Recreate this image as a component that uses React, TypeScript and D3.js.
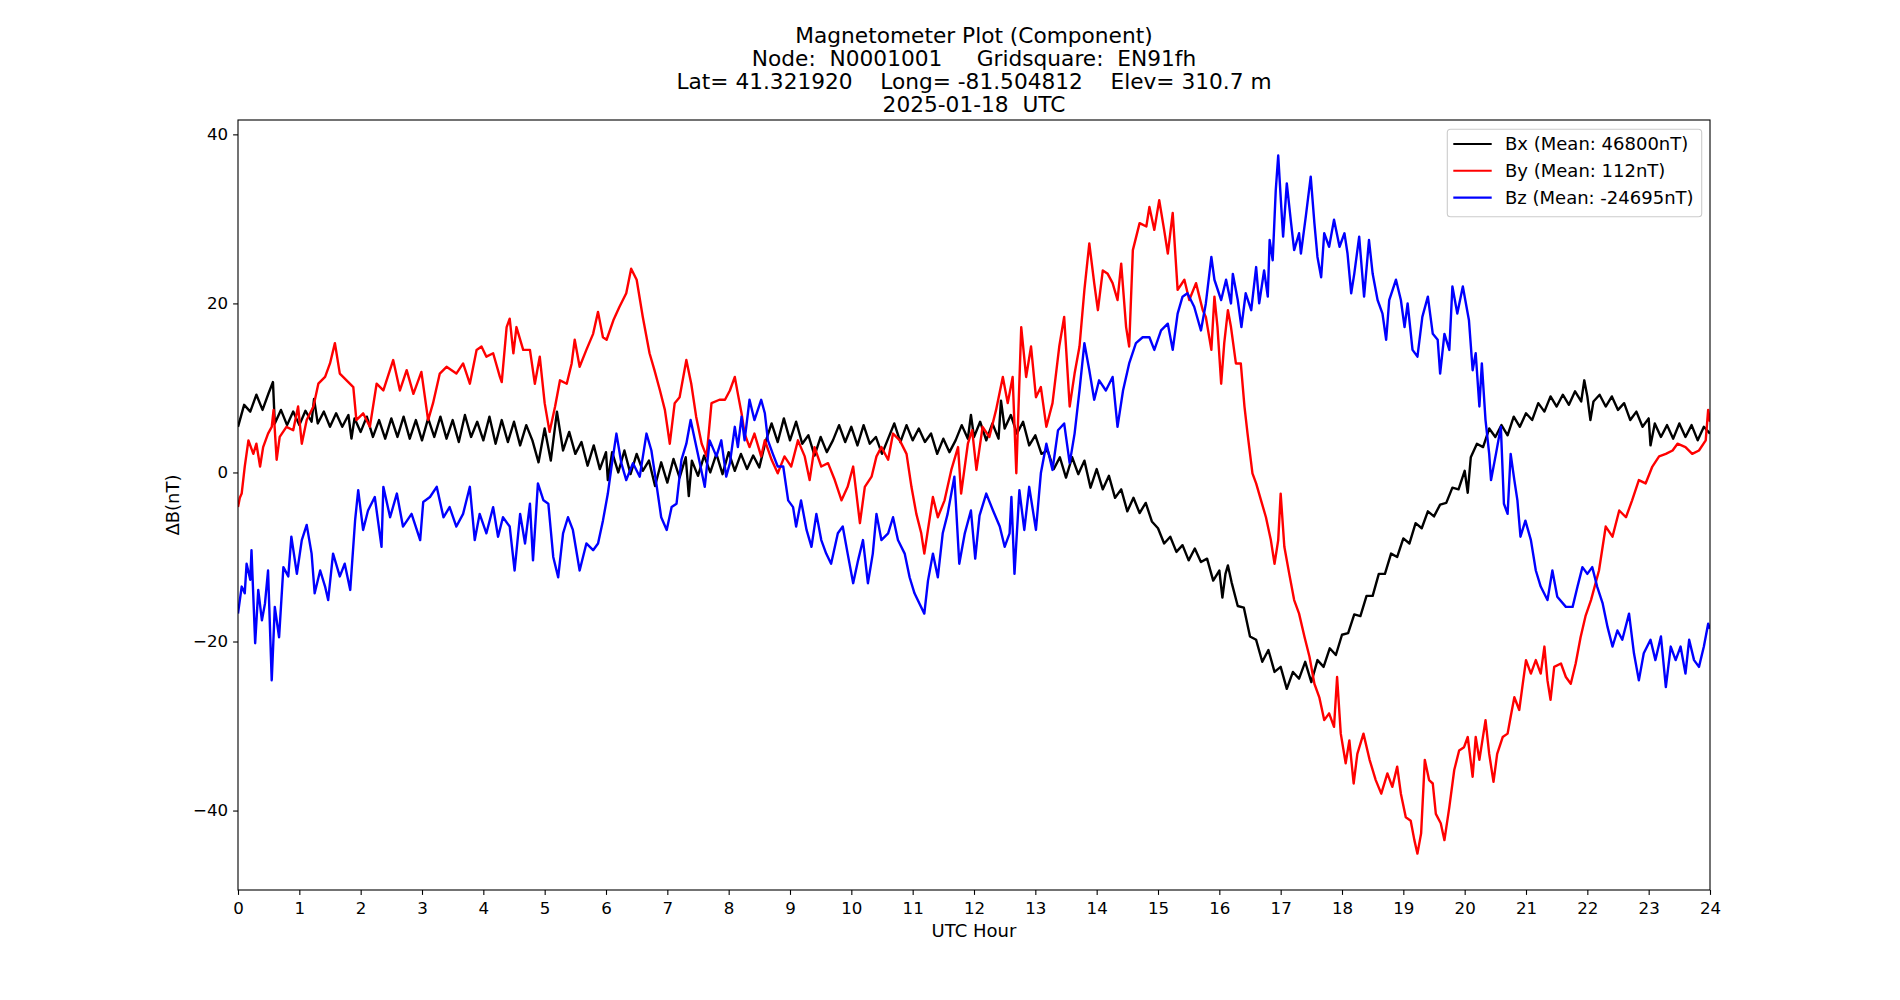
import React, { useEffect, useRef } from "react";
import * as d3 from "d3";

// title + labels
const titleLines = [
  "Magnetometer Plot (Component)",
  "Node:  N0001001     Gridsquare:  EN91fh",
  "Lat= 41.321920    Long= -81.504812    Elev= 310.7 m",
  "2025-01-18  UTC",
];
const xLabel = "UTC Hour";
const yLabel = "ΔB(nT)";

const xTicks = [0, 1, 2, 3, 4, 5, 6, 7, 8, 9, 10, 11, 12, 13, 14, 15, 16, 17, 18, 19, 20, 21, 22, 23, 24];
const yTicks = [-40, -20, 0, 20, 40];

const legendLabels = ["Bx (Mean: 46800nT)", "By (Mean: 112nT)", "Bz (Mean: -24695nT)"];

// [UTC hour, delta nT]
const bx: [number, number][] = [
  [0, 5.4], [0.1, 8.0], [0.2, 7.2], [0.3, 9.2], [0.4, 7.4], [0.5, 9.4], [0.57, 10.7], [0.6, 5.8],
  [0.7, 7.4], [0.8, 5.6], [0.9, 7.2], [1.0, 5.6], [1.1, 7.3], [1.2, 6.0], [1.24, 8.7], [1.3, 5.8],
  [1.4, 7.2], [1.5, 5.4], [1.6, 7.0], [1.7, 5.4], [1.8, 6.8], [1.85, 4.0], [1.9, 6.4], [2.0, 4.8],
  [2.1, 6.6], [2.2, 4.2], [2.3, 6.2], [2.4, 4.0], [2.5, 6.4], [2.6, 4.2], [2.7, 6.6], [2.8, 4.0],
  [2.9, 6.2], [3.0, 3.8], [3.1, 6.4], [3.2, 4.2], [3.3, 6.6], [3.4, 4.0], [3.5, 6.2], [3.6, 3.6],
  [3.7, 6.8], [3.8, 4.2], [3.9, 6.0], [4.0, 3.8], [4.1, 6.6], [4.2, 3.4], [4.3, 6.2], [4.4, 3.6],
  [4.5, 6.0], [4.6, 3.2], [4.7, 5.6], [4.8, 3.8], [4.9, 1.2], [5.0, 5.2], [5.1, 1.4], [5.2, 7.2],
  [5.3, 2.6], [5.4, 4.8], [5.5, 2.2], [5.6, 3.6], [5.7, 0.8], [5.8, 3.2], [5.9, 0.4], [6.0, 2.4],
  [6.03, -0.9], [6.1, 2.4], [6.2, 0.0], [6.3, 2.6], [6.4, -0.2], [6.5, 2.2], [6.6, 0.2], [6.7, 1.4],
  [6.8, -1.6], [6.9, 1.2], [7.0, -1.2], [7.1, 1.6], [7.2, -0.6], [7.3, 1.8], [7.35, -2.8], [7.4, 1.4],
  [7.5, -0.4], [7.6, 2.0], [7.7, 0.0], [7.8, 2.2], [7.9, -0.2], [8.0, 2.4], [8.1, 0.2], [8.2, 2.2],
  [8.3, 0.4], [8.4, 2.0], [8.5, 0.6], [8.6, 3.6], [8.7, 5.8], [8.8, 3.6], [8.9, 6.4], [9.0, 3.8],
  [9.1, 6.0], [9.2, 3.4], [9.3, 4.4], [9.4, 2.0], [9.5, 4.2], [9.6, 2.4], [9.7, 3.8], [9.8, 5.6],
  [9.9, 3.6], [10.0, 5.4], [10.1, 3.2], [10.2, 5.6], [10.3, 3.4], [10.4, 4.2], [10.5, 2.2], [10.6, 4.0],
  [10.7, 5.8], [10.8, 3.6], [10.9, 5.6], [11.0, 3.8], [11.1, 5.2], [11.2, 3.6], [11.3, 4.6], [11.4, 2.2],
  [11.5, 4.0], [11.6, 2.4], [11.7, 3.8], [11.8, 5.6], [11.9, 4.0], [11.95, 6.8], [12.0, 4.2], [12.1, 6.0],
  [12.2, 3.8], [12.3, 5.8], [12.4, 4.0], [12.44, 8.5], [12.5, 5.2], [12.6, 6.8], [12.7, 4.6], [12.8, 6.0],
  [12.9, 3.2], [13.0, 4.4], [13.1, 2.2], [13.2, 2.6], [13.3, 0.4], [13.4, 1.8], [13.5, -0.6], [13.6, 1.8],
  [13.7, -0.2], [13.8, 1.4], [13.9, -1.8], [14.0, 0.4], [14.1, -2.0], [14.2, -0.4], [14.3, -3.0], [14.4, -2.0],
  [14.5, -4.6], [14.6, -3.0], [14.7, -4.8], [14.8, -3.6], [14.9, -5.8], [15.0, -6.6], [15.1, -8.4], [15.2, -7.6],
  [15.3, -9.4], [15.4, -8.6], [15.5, -10.4], [15.6, -9.0], [15.7, -10.6], [15.8, -10.2], [15.9, -12.8], [16.0, -11.6],
  [16.05, -14.8], [16.1, -12.0], [16.14, -11.0], [16.2, -13.0], [16.3, -15.8], [16.4, -16.0], [16.5, -19.4], [16.6, -19.8],
  [16.7, -22.4], [16.8, -21.0], [16.9, -23.6], [17.0, -23.0], [17.1, -25.6], [17.2, -23.6], [17.3, -24.4], [17.4, -22.4],
  [17.5, -24.8], [17.6, -22.2], [17.7, -23.0], [17.8, -20.8], [17.9, -21.6], [18.0, -19.2], [18.1, -19.0], [18.2, -16.8],
  [18.3, -17.0], [18.4, -14.6], [18.5, -14.6], [18.6, -12.0], [18.7, -12.0], [18.8, -9.6], [18.9, -10.0], [19.0, -7.8],
  [19.1, -8.4], [19.2, -6.0], [19.3, -6.6], [19.4, -4.6], [19.5, -5.2], [19.6, -3.8], [19.7, -3.6], [19.8, -1.8],
  [19.9, -2.0], [20.0, 0.2], [20.05, -2.4], [20.1, 1.8], [20.2, 3.4], [20.3, 3.0], [20.4, 5.2], [20.5, 4.2],
  [20.6, 5.6], [20.7, 4.4], [20.8, 6.6], [20.9, 5.4], [21.0, 7.0], [21.1, 6.2], [21.2, 8.2], [21.3, 7.2],
  [21.4, 9.0], [21.5, 7.8], [21.6, 9.2], [21.7, 8.0], [21.8, 9.6], [21.9, 8.4], [21.95, 10.9], [22.0, 9.0],
  [22.05, 6.2], [22.1, 8.4], [22.2, 9.2], [22.3, 7.8], [22.4, 9.0], [22.5, 7.4], [22.6, 8.2], [22.7, 6.2],
  [22.8, 7.2], [22.9, 5.4], [23.0, 6.4], [23.03, 3.2], [23.1, 5.8], [23.2, 4.2], [23.3, 5.6], [23.4, 4.0],
  [23.5, 5.8], [23.6, 4.2], [23.7, 5.6], [23.8, 3.8], [23.9, 5.4], [24.0, 4.6],
];

const by: [number, number][] = [
  [0, -4.1], [0.03, -3.0], [0.06, -2.5], [0.11, 0.7], [0.17, 3.8], [0.25, 2.2], [0.3, 3.4], [0.36, 0.7],
  [0.41, 3.0], [0.49, 4.6], [0.55, 5.4], [0.58, 7.4], [0.63, 1.5], [0.68, 4.2], [0.79, 5.4], [0.9, 5.0],
  [0.98, 7.8], [1.04, 3.4], [1.12, 6.2], [1.23, 7.8], [1.31, 10.5], [1.42, 11.3], [1.5, 12.9], [1.58, 15.3],
  [1.66, 11.7], [1.77, 10.9], [1.88, 10.1], [1.93, 6.2], [2.04, 7.0], [2.15, 5.4], [2.26, 10.5], [2.37, 9.7],
  [2.53, 13.3], [2.64, 9.7], [2.75, 12.1], [2.86, 9.3], [2.99, 11.9], [3.1, 6.2], [3.18, 8.2], [3.29, 11.7],
  [3.4, 12.5], [3.56, 11.7], [3.67, 12.9], [3.78, 10.5], [3.89, 14.5], [3.97, 14.9], [4.05, 13.7], [4.16, 14.1],
  [4.27, 11.3], [4.3, 10.7], [4.38, 17.2], [4.43, 18.2], [4.49, 14.1], [4.54, 17.2], [4.65, 14.5], [4.76, 14.5],
  [4.84, 10.5], [4.92, 13.7], [5.0, 8.2], [5.08, 4.8], [5.17, 7.8], [5.25, 10.9], [5.36, 10.5], [5.44, 12.9],
  [5.49, 15.7], [5.57, 12.5], [5.68, 14.5], [5.79, 16.4], [5.87, 19.0], [5.95, 16.0], [6.01, 15.7], [6.12, 18.0],
  [6.22, 19.6], [6.33, 21.2], [6.41, 24.1], [6.5, 22.8], [6.6, 18.4], [6.71, 14.1], [6.79, 12.1], [6.88, 9.7],
  [6.96, 7.4], [7.04, 3.4], [7.12, 8.2], [7.2, 8.9], [7.31, 13.3], [7.39, 10.5], [7.47, 6.6], [7.56, 3.4],
  [7.64, 1.9], [7.72, 8.2], [7.85, 8.6], [7.94, 8.6], [8.02, 9.7], [8.1, 11.3], [8.15, 9.3], [8.21, 7.0],
  [8.26, 4.6], [8.34, 3.0], [8.42, 4.6], [8.53, 1.9], [8.59, 3.8], [8.7, 1.5], [8.8, -0.1], [8.91, 1.9],
  [9.02, 0.7], [9.13, 3.8], [9.24, 1.9], [9.32, -0.9], [9.4, 3.0], [9.51, 0.7], [9.62, 1.1], [9.73, -0.9],
  [9.84, -3.3], [9.94, -1.7], [10.03, 0.7], [10.14, -6.0], [10.22, -1.7], [10.33, -0.5], [10.41, 1.9], [10.49, 3.0],
  [10.6, 1.5], [10.68, 4.6], [10.79, 3.8], [10.9, 2.2], [10.98, -1.7], [11.06, -4.9], [11.14, -7.2], [11.19, -9.6],
  [11.28, -5.3], [11.33, -2.9], [11.41, -5.3], [11.52, -3.3], [11.63, 0.3], [11.74, 3.0], [11.79, -2.5], [11.9, 3.4],
  [11.97, 5.0], [12.04, 0.3], [12.14, 5.4], [12.25, 4.2], [12.36, 7.4], [12.47, 11.3], [12.55, 8.2], [12.63, 11.3],
  [12.69, -0.1], [12.77, 17.2], [12.85, 11.3], [12.93, 14.9], [13.01, 8.9], [13.09, 10.1], [13.18, 5.4], [13.28, 8.2],
  [13.39, 14.9], [13.47, 18.4], [13.56, 7.8], [13.64, 11.7], [13.72, 14.9], [13.8, 21.6], [13.88, 27.1], [13.96, 22.4],
  [14.02, 19.2], [14.1, 23.9], [14.18, 23.5], [14.26, 22.4], [14.34, 20.4], [14.4, 24.7], [14.48, 17.2], [14.53, 14.9],
  [14.59, 26.3], [14.7, 29.5], [14.81, 29.1], [14.86, 31.4], [14.94, 28.7], [15.02, 32.2], [15.1, 28.7], [15.16, 25.9],
  [15.24, 30.7], [15.32, 21.6], [15.43, 22.8], [15.51, 20.4], [15.62, 22.4], [15.73, 19.2], [15.78, 18.4], [15.87, 14.5],
  [15.92, 20.8], [15.97, 17.2], [16.03, 10.5], [16.08, 15.3], [16.14, 19.2], [16.19, 17.2], [16.27, 12.9], [16.35, 12.9],
  [16.41, 7.8], [16.46, 4.6], [16.54, -0.1], [16.6, -1.3], [16.68, -3.3], [16.76, -5.3], [16.84, -8.0], [16.9, -10.8],
  [16.96, -8.0], [17.0, -2.5], [17.06, -8.8], [17.14, -12.0], [17.22, -15.1], [17.3, -16.7], [17.39, -19.5], [17.47, -21.8],
  [17.55, -25.0], [17.63, -26.6], [17.71, -29.3], [17.79, -28.5], [17.87, -30.1], [17.92, -24.2], [17.98, -30.9], [18.06, -34.4],
  [18.12, -31.7], [18.19, -36.8], [18.25, -33.3], [18.35, -30.9], [18.45, -34.0], [18.55, -36.4], [18.64, -38.0], [18.74, -35.6],
  [18.82, -37.2], [18.9, -34.8], [18.96, -38.0], [19.04, -40.8], [19.12, -41.2], [19.18, -43.5], [19.23, -45.1], [19.29, -42.7],
  [19.35, -34.0], [19.42, -36.4], [19.48, -36.8], [19.53, -40.4], [19.61, -41.5], [19.67, -43.5], [19.75, -39.6], [19.83, -35.2],
  [19.91, -32.9], [19.99, -32.5], [20.05, -31.3], [20.13, -36.0], [20.18, -31.3], [20.24, -34.0], [20.34, -29.3], [20.4, -33.3],
  [20.47, -36.6], [20.53, -33.3], [20.62, -31.3], [20.7, -30.9], [20.75, -28.9], [20.81, -26.6], [20.89, -28.1], [20.94, -25.4],
  [21.0, -22.2], [21.08, -23.8], [21.16, -22.2], [21.24, -23.8], [21.3, -20.6], [21.35, -24.6], [21.4, -26.9], [21.46, -23.0],
  [21.57, -22.6], [21.65, -24.2], [21.73, -25.0], [21.81, -22.6], [21.89, -19.5], [21.97, -17.0], [22.06, -15.1], [22.19, -11.6],
  [22.3, -6.4], [22.41, -7.6], [22.52, -4.5], [22.63, -5.3], [22.73, -3.3], [22.84, -0.9], [22.95, -1.3], [23.06, 0.7],
  [23.17, 1.9], [23.28, 2.2], [23.39, 2.6], [23.47, 3.4], [23.6, 3.0], [23.71, 2.2], [23.82, 2.6], [23.93, 3.8],
  [23.97, 7.4], [24.0, 6.0],
];

const bz: [number, number][] = [
  [0, -16.7], [0.06, -13.5], [0.11, -14.3], [0.14, -10.8], [0.2, -12.7], [0.22, -9.2], [0.28, -20.2], [0.33, -13.9],
  [0.39, -17.5], [0.44, -15.5], [0.49, -11.6], [0.55, -24.6], [0.6, -15.9], [0.67, -19.5], [0.74, -11.2], [0.82, -12.3],
  [0.87, -7.6], [0.96, -12.0], [1.04, -8.0], [1.12, -6.2], [1.2, -9.6], [1.25, -14.3], [1.34, -11.6], [1.42, -13.5],
  [1.47, -15.1], [1.55, -9.6], [1.66, -12.3], [1.74, -10.8], [1.83, -13.9], [1.91, -5.6], [1.96, -2.1], [2.04, -6.8],
  [2.12, -4.5], [2.23, -2.9], [2.34, -8.8], [2.37, -1.7], [2.48, -5.3], [2.59, -2.5], [2.69, -6.4], [2.83, -4.9],
  [2.97, -8.0], [3.02, -3.5], [3.13, -2.9], [3.24, -1.7], [3.35, -5.3], [3.45, -4.1], [3.56, -6.4], [3.67, -4.9],
  [3.78, -1.7], [3.86, -8.0], [3.94, -4.9], [4.05, -7.2], [4.16, -4.1], [4.24, -7.6], [4.32, -5.3], [4.43, -6.4],
  [4.51, -11.6], [4.6, -4.9], [4.68, -8.4], [4.76, -3.7], [4.81, -10.4], [4.89, -1.3], [4.98, -3.3], [5.06, -3.7],
  [5.14, -10.0], [5.22, -12.4], [5.3, -7.2], [5.38, -5.3], [5.46, -6.8], [5.57, -11.6], [5.68, -8.4], [5.79, -9.2],
  [5.87, -8.4], [5.95, -5.7], [6.03, -2.5], [6.09, 0.7], [6.17, 4.6], [6.25, 1.1], [6.33, -0.9], [6.44, 1.1],
  [6.55, -0.5], [6.66, 4.6], [6.74, 2.6], [6.82, -1.3], [6.9, -5.3], [6.99, -6.8], [7.07, -4.1], [7.15, -3.7],
  [7.23, 1.5], [7.31, 3.4], [7.38, 6.2], [7.45, 3.8], [7.53, 1.1], [7.61, -1.7], [7.69, 3.8], [7.8, 1.9],
  [7.88, 3.8], [7.96, -0.5], [8.02, 1.1], [8.1, 5.4], [8.15, 3.0], [8.21, 6.6], [8.26, 3.8], [8.34, 8.6],
  [8.42, 6.2], [8.53, 8.6], [8.59, 7.0], [8.64, 3.8], [8.72, 2.2], [8.8, 0.7], [8.89, 0.7], [8.97, -3.3],
  [9.05, -4.1], [9.1, -6.4], [9.18, -3.3], [9.27, -6.8], [9.35, -8.8], [9.43, -4.9], [9.51, -8.0], [9.59, -9.6],
  [9.67, -10.8], [9.78, -7.2], [9.86, -6.4], [9.94, -9.6], [10.03, -13.1], [10.11, -10.4], [10.19, -8.0], [10.27, -13.1],
  [10.35, -9.6], [10.41, -4.9], [10.49, -8.0], [10.6, -7.2], [10.68, -5.3], [10.76, -8.0], [10.87, -9.6], [10.95, -12.4],
  [11.03, -14.3], [11.11, -15.5], [11.19, -16.7], [11.25, -12.8], [11.33, -9.6], [11.41, -12.4], [11.49, -7.2], [11.57, -4.9],
  [11.68, -0.5], [11.76, -10.8], [11.85, -7.2], [11.95, -4.5], [12.02, -10.2], [12.09, -5.1], [12.2, -2.5], [12.31, -4.5],
  [12.42, -6.4], [12.5, -8.8], [12.58, -7.2], [12.61, -2.9], [12.66, -12.0], [12.74, -2.1], [12.82, -6.8], [12.9, -1.7],
  [13.01, -6.8], [13.09, -0.1], [13.18, 3.4], [13.28, 0.3], [13.37, 5.0], [13.47, 5.8], [13.56, 1.1], [13.64, 4.6],
  [13.72, 9.7], [13.8, 15.3], [13.88, 12.1], [13.96, 8.6], [14.04, 10.9], [14.15, 9.7], [14.26, 11.3], [14.34, 5.4],
  [14.43, 9.7], [14.53, 12.9], [14.64, 15.3], [14.75, 16.0], [14.86, 16.0], [14.94, 14.5], [15.05, 16.8], [15.16, 17.6],
  [15.24, 14.5], [15.32, 18.8], [15.4, 20.8], [15.48, 21.2], [15.59, 19.6], [15.7, 16.8], [15.78, 20.0], [15.87, 25.5],
  [15.92, 22.8], [16.03, 20.4], [16.11, 22.8], [16.19, 20.0], [16.22, 23.5], [16.3, 20.4], [16.36, 17.2], [16.43, 21.2],
  [16.52, 19.2], [16.6, 24.3], [16.65, 20.0], [16.73, 23.9], [16.79, 20.8], [16.82, 27.5], [16.87, 25.1], [16.92, 33.4],
  [16.96, 37.5], [17.01, 31.4], [17.04, 27.9], [17.1, 34.2], [17.17, 29.5], [17.22, 26.3], [17.3, 28.3], [17.33, 25.9],
  [17.41, 30.3], [17.49, 35.0], [17.55, 29.5], [17.6, 25.5], [17.66, 23.1], [17.71, 28.3], [17.79, 26.7], [17.87, 29.9],
  [17.96, 26.7], [18.04, 28.3], [18.09, 25.9], [18.15, 21.2], [18.2, 23.5], [18.28, 27.9], [18.36, 20.8], [18.44, 27.5],
  [18.5, 23.5], [18.58, 20.4], [18.66, 18.8], [18.72, 15.7], [18.77, 20.4], [18.88, 22.8], [18.96, 20.4], [19.02, 17.2],
  [19.07, 20.0], [19.15, 14.5], [19.23, 13.7], [19.31, 18.4], [19.4, 20.8], [19.48, 16.4], [19.56, 15.7], [19.6, 11.7],
  [19.67, 16.4], [19.75, 14.5], [19.8, 22.0], [19.88, 18.8], [19.97, 22.0], [20.07, 18.0], [20.13, 12.1], [20.18, 14.1],
  [20.24, 7.8], [20.28, 12.9], [20.34, 6.2], [20.4, 2.2], [20.43, -0.9], [20.51, 2.2], [20.59, 5.4], [20.64, -3.7],
  [20.7, -4.9], [20.75, 2.2], [20.81, -0.9], [20.86, -3.3], [20.91, -7.6], [20.99, -5.7], [21.08, -8.0], [21.16, -11.6],
  [21.24, -13.5], [21.35, -15.1], [21.43, -11.6], [21.51, -14.7], [21.65, -15.9], [21.76, -15.9], [21.84, -13.5], [21.92, -11.2],
  [22.0, -12.0], [22.08, -11.2], [22.16, -13.5], [22.25, -15.5], [22.33, -18.3], [22.41, -20.6], [22.49, -18.7], [22.57, -19.8],
  [22.68, -16.7], [22.76, -21.4], [22.84, -24.6], [22.92, -21.4], [23.03, -19.8], [23.11, -22.2], [23.2, -19.4], [23.28, -25.4],
  [23.36, -20.6], [23.44, -22.2], [23.52, -20.6], [23.6, -23.8], [23.66, -19.8], [23.74, -22.2], [23.82, -23.0], [23.9, -20.6],
  [23.97, -17.9], [24.0, -18.5],
];

const seriesColors = ["#000000", "#ff0000", "#0000ff"];

const width = 1900;
const height = 1000;
const plot = { left: 238, right: 1710, top: 120, bottom: 890 };
const font = "'DejaVu Sans', sans-serif";

function App() {
  const ref = useRef<SVGSVGElement>(null);

  useEffect(() => {
    drawChart();
  }, []);

  function drawChart() {
    const svg = d3.select(ref.current);
    svg.selectAll("*").remove();

    svg.append("rect").attr("width", width).attr("height", height).attr("fill", "#ffffff");

    const x = d3.scaleLinear().domain([0, 24]).range([plot.left, plot.right]);
    const y = d3.scaleLinear().domain([-49.4, 41.7]).range([plot.bottom, plot.top]);

    svg
      .append("clipPath")
      .attr("id", "plot-clip")
      .append("rect")
      .attr("x", plot.left)
      .attr("y", plot.top)
      .attr("width", plot.right - plot.left)
      .attr("height", plot.bottom - plot.top);

    const line = d3
      .line<[number, number]>()
      .x((d) => x(d[0]))
      .y((d) => y(d[1]));

    const lines = svg.append("g").attr("clip-path", "url(#plot-clip)");
    [bx, by, bz].forEach((data, i) => {
      lines
        .append("path")
        .datum(data)
        .attr("d", line)
        .attr("fill", "none")
        .attr("stroke", seriesColors[i])
        .attr("stroke-width", 2.4)
        .attr("stroke-linejoin", "round");
    });

    // axes
    const xAxis = svg
      .append("g")
      .attr("transform", `translate(0, ${plot.bottom})`)
      .call(d3.axisBottom(x).tickValues(xTicks).tickSize(4.9).tickPadding(7).tickFormat(d3.format("d")));
    const yAxis = svg
      .append("g")
      .attr("transform", `translate(${plot.left}, 0)`)
      .call(d3.axisLeft(y).tickValues(yTicks).tickSize(4.9).tickPadding(4.9).tickFormat(d3.format("d")));

    [xAxis, yAxis].forEach((g) => {
      g.select(".domain").remove();
      g.selectAll("line").attr("stroke", "#000").attr("stroke-width", 1.1);
      g.selectAll("text").attr("font-family", font).attr("font-size", 16.67).attr("fill", "#000");
    });

    svg
      .append("rect")
      .attr("x", plot.left)
      .attr("y", plot.top)
      .attr("width", plot.right - plot.left)
      .attr("height", plot.bottom - plot.top)
      .attr("fill", "none")
      .attr("stroke", "#000")
      .attr("stroke-width", 1.1);

    svg
      .append("text")
      .text(xLabel)
      .attr("x", (plot.left + plot.right) / 2)
      .attr("y", 937)
      .attr("text-anchor", "middle")
      .attr("font-family", font)
      .attr("font-size", 18);

    svg
      .append("text")
      .text(yLabel)
      .attr("transform", `translate(179, ${(plot.top + plot.bottom) / 2}) rotate(-90)`)
      .attr("text-anchor", "middle")
      .attr("font-family", font)
      .attr("font-size", 18);

    svg
      .append("g")
      .selectAll("text")
      .data(titleLines)
      .enter()
      .append("text")
      .text((d) => d)
      .attr("x", (plot.left + plot.right) / 2)
      .attr("y", (_, i) => 43 + i * 23)
      .attr("text-anchor", "middle")
      .attr("font-family", font)
      .attr("font-size", 21.7)
      .style("white-space", "pre");

    // legend
    const legend = svg.append("g");
    legend
      .append("rect")
      .attr("x", 1447.3)
      .attr("y", 129.3)
      .attr("width", 254.4)
      .attr("height", 87.4)
      .attr("rx", 3.3)
      .attr("fill", "#ffffff")
      .attr("fill-opacity", 0.8)
      .attr("stroke", "#cccccc")
      .attr("stroke-width", 1.1);

    legendLabels.forEach((label, i) => {
      const rowY = 144 + i * 26.8;
      legend
        .append("line")
        .attr("x1", 1453.3)
        .attr("x2", 1491.7)
        .attr("y1", rowY)
        .attr("y2", rowY)
        .attr("stroke", seriesColors[i])
        .attr("stroke-width", 2.1);
      legend
        .append("text")
        .text(label)
        .attr("x", 1505)
        .attr("y", rowY + 6.4)
        .attr("font-family", font)
        .attr("font-size", 18);
    });
  }

  return (
    <svg
      ref={ref}
      width={width}
      height={height}
      style={{ position: "absolute", left: 0, top: 0, display: "block" }}
    />
  );
}

export default App;
